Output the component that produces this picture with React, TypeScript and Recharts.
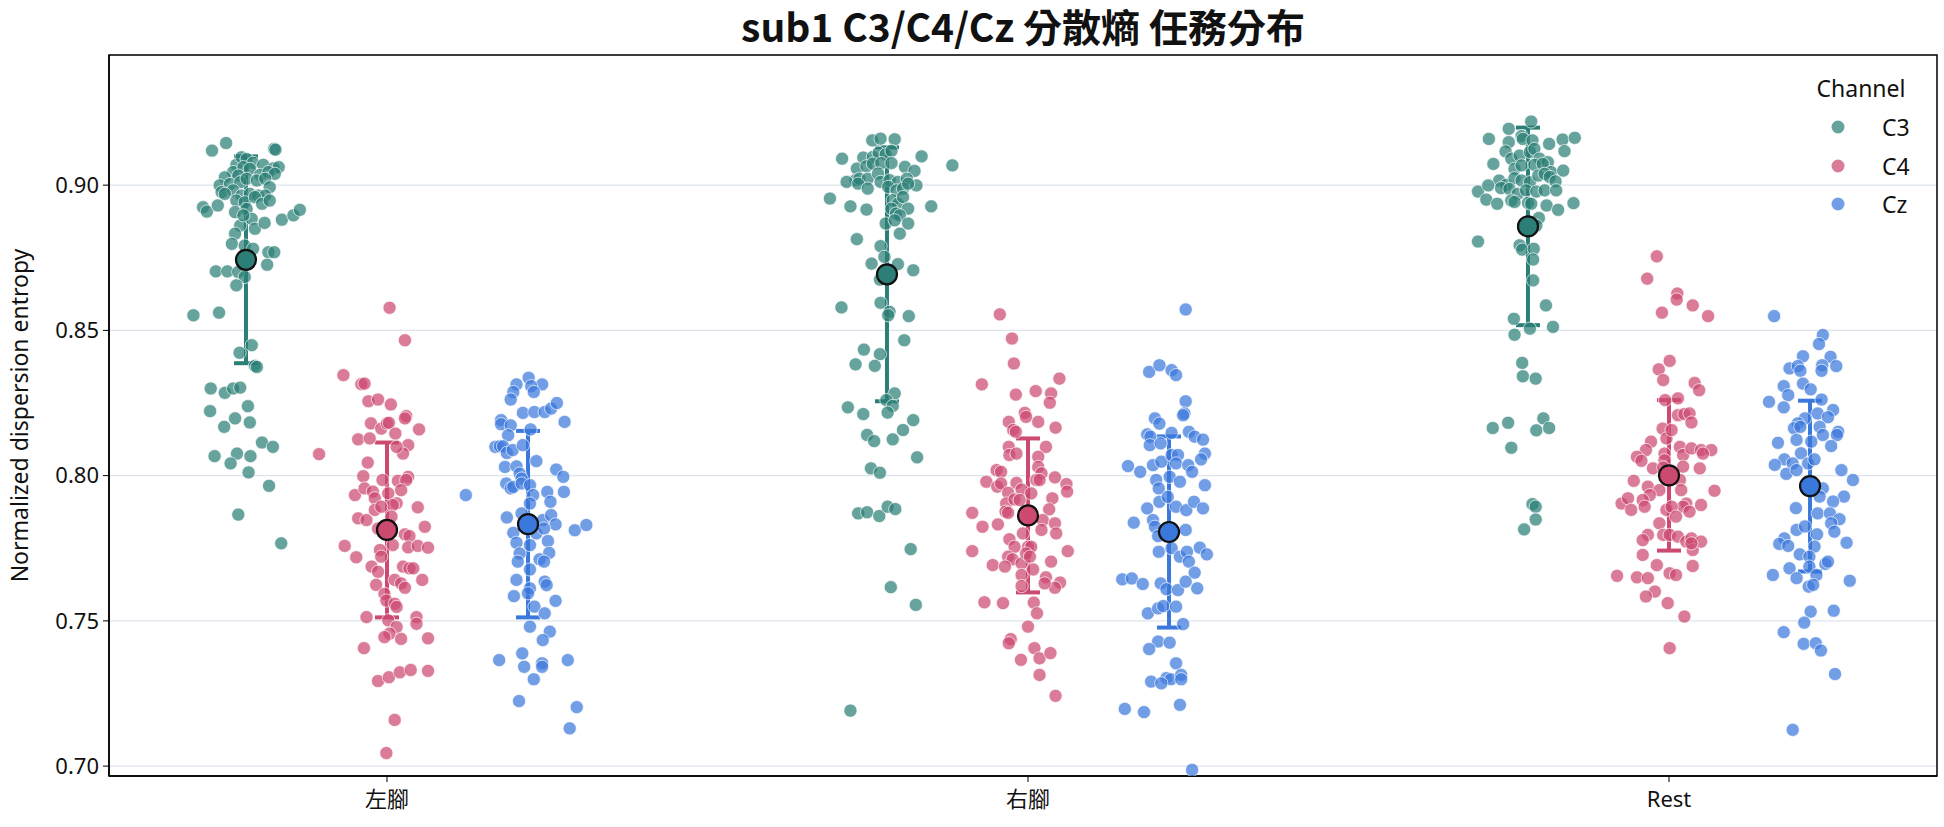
import React from "react";
import {
  ScatterChart,
  Scatter,
  XAxis,
  YAxis,
  CartesianGrid,
  ErrorBar,
  ReferenceArea,
} from "recharts";

const categories = ["左腳", "右腳", "Rest"];
const channels = ["C3", "C4", "Cz"];
const channelColors = ["#2b7f76", "#cc4a70", "#3b78dc"];
const channelOffsets = [-0.22, 0, 0.22];
const yTicks = [0.7, 0.75, 0.8, 0.85, 0.9];
const xDomain = [-0.4337, 2.4181];
const yDomain = [0.6966, 0.9448];

// each trial: [jitter within the strip, normalized dispersion entropy]
const c3Left = [
  [-0.053, 0.9119], [-0.031, 0.9145], [0.044, 0.9125], [0.046, 0.9122], [-0.015, 0.907], [-0.007, 0.9096],
  [0.001, 0.909], [0.011, 0.9077], [0.027, 0.907], [0.043, 0.9058], [0.051, 0.9062], [-0.02, 0.9045],
  [-0.004, 0.9062], [0.006, 0.9056], [-0.033, 0.9027], [-0.012, 0.9033], [0.022, 0.9035], [0.035, 0.9045],
  [0.045, 0.9039], [-0.041, 0.8999], [-0.025, 0.9004], [-0.009, 0.901], [0.001, 0.9022], [0.017, 0.9016],
  [0.03, 0.9022], [0.037, 0.8993], [-0.038, 0.8976], [-0.02, 0.8982], [-0.007, 0.8964], [0.006, 0.897],
  [0.019, 0.8964], [0.03, 0.8964], [-0.033, 0.897], [-0.015, 0.8947], [-0.002, 0.8941], [0.014, 0.8959],
  [0.025, 0.8936], [0.037, 0.8947], [-0.067, 0.8924], [-0.061, 0.8909], [-0.044, 0.893], [-0.017, 0.8907],
  [0.001, 0.8918], [0.009, 0.8884], [-0.009, 0.8861], [0.014, 0.885], [-0.004, 0.8896], [0.029, 0.887],
  [0.056, 0.8881], [0.074, 0.8896], [0.084, 0.8915], [-0.017, 0.8833], [-0.022, 0.8798], [-0.002, 0.8792],
  [0.011, 0.8781], [0.035, 0.8769], [0.044, 0.8769], [0.033, 0.8726], [-0.047, 0.8703], [-0.029, 0.8703],
  [-0.012, 0.8701], [-0.002, 0.8684], [-0.015, 0.8655], [-0.082, 0.8552], [-0.042, 0.8561], [0.009, 0.8449],
  [-0.01, 0.8423], [0.014, 0.8378], [0.017, 0.8374], [-0.055, 0.83], [-0.033, 0.8285], [-0.02, 0.83],
  [-0.009, 0.8303], [-0.056, 0.8222], [0.003, 0.8239], [-0.017, 0.8197], [-0.034, 0.8168], [0.006, 0.8183],
  [0.025, 0.8114], [0.042, 0.8099], [-0.049, 0.8067], [-0.014, 0.8076], [0.007, 0.8067], [-0.024, 0.8042],
  [0.004, 0.8011], [0.036, 0.7965], [-0.012, 0.7866], [0.055, 0.7767],
];

const c4Left = [
  [0.004, 0.8578], [0.028, 0.8466], [-0.068, 0.8346], [-0.04, 0.8315], [-0.035, 0.8317], [-0.029, 0.8256],
  [-0.014, 0.8262], [0.006, 0.8245], [-0.025, 0.818], [-0.009, 0.8162], [0.0, 0.818], [0.003, 0.8182],
  [0.03, 0.8205], [0.028, 0.8197], [0.05, 0.8159], [-0.045, 0.8125], [-0.027, 0.8128], [0.013, 0.8145],
  [0.033, 0.8105], [0.025, 0.8076], [0.015, 0.8099], [-0.106, 0.8074], [-0.03, 0.8045], [-0.037, 0.7998],
  [-0.007, 0.7985], [0.017, 0.7982], [0.033, 0.7996], [0.03, 0.7985], [-0.05, 0.7933], [-0.035, 0.7956],
  [-0.022, 0.7945], [-0.019, 0.7922], [0.002, 0.7939], [0.022, 0.795], [0.015, 0.7905], [0.009, 0.7899],
  [0.048, 0.7891], [-0.045, 0.7853], [-0.032, 0.7847], [-0.019, 0.7882], [-0.009, 0.7893], [0.007, 0.7859],
  [-0.014, 0.7818], [0.028, 0.7798], [0.035, 0.7792], [0.059, 0.7824], [-0.066, 0.7758], [-0.048, 0.7719],
  [-0.011, 0.7744], [-0.009, 0.7721], [0.009, 0.7761], [0.033, 0.7753], [0.048, 0.7758], [0.064, 0.7752],
  [-0.024, 0.7687], [-0.014, 0.7669], [0.025, 0.7687], [0.035, 0.7681], [0.041, 0.7681], [-0.017, 0.7624],
  [0.012, 0.7641], [0.022, 0.7629], [0.028, 0.7614], [0.055, 0.7641], [-0.004, 0.7593], [-0.001, 0.757],
  [0.012, 0.7559], [0.015, 0.7548], [-0.032, 0.7513], [0.002, 0.7502], [0.046, 0.7513], [0.046, 0.749],
  [0.015, 0.7479], [0.004, 0.7456], [-0.004, 0.7444], [0.022, 0.7438], [0.064, 0.744], [-0.036, 0.7406],
  [-0.014, 0.7293], [0.003, 0.7306], [0.02, 0.7323], [0.037, 0.7331], [0.064, 0.7328], [0.012, 0.7159],
  [-0.001, 0.7045],
];

const czLeft = [
  [0.001, 0.8337], [-0.018, 0.8314], [0.022, 0.8314], [0.005, 0.8308], [-0.023, 0.8288], [0.009, 0.8288],
  [-0.027, 0.8262], [-0.008, 0.8216], [0.01, 0.8219], [0.026, 0.8219], [0.036, 0.8231], [0.045, 0.825],
  [0.057, 0.8185], [-0.042, 0.8191], [-0.042, 0.8177], [-0.027, 0.8173], [0.004, 0.8159], [-0.031, 0.8139],
  [-0.051, 0.8099], [-0.044, 0.8101], [-0.039, 0.8101], [-0.033, 0.8078], [-0.024, 0.8088], [-0.008, 0.8105],
  [0.013, 0.805], [-0.036, 0.803], [-0.018, 0.8032], [-0.013, 0.8007], [-0.01, 0.799], [0.044, 0.8021],
  [0.055, 0.7996], [-0.034, 0.7973], [-0.027, 0.7956], [-0.023, 0.7961], [-0.01, 0.7973], [0.003, 0.7967],
  [0.008, 0.7933], [0.03, 0.7944], [0.035, 0.791], [0.056, 0.7944], [-0.097, 0.7933], [0.003, 0.7904],
  [-0.033, 0.7856], [-0.01, 0.787], [0.023, 0.7847], [0.036, 0.7864], [0.043, 0.7832], [0.073, 0.7812],
  [0.091, 0.783], [-0.023, 0.7803], [0.013, 0.7801], [0.025, 0.7818], [-0.018, 0.7769], [0.003, 0.7761],
  [0.031, 0.7775], [-0.013, 0.7732], [0.033, 0.7734], [-0.016, 0.7704], [0.018, 0.7712], [0.025, 0.7704],
  [0.003, 0.7677], [-0.018, 0.7641], [0.026, 0.7635], [0.029, 0.7623], [0.003, 0.7612], [0.0, 0.7595],
  [-0.022, 0.7585], [0.043, 0.7569], [0.01, 0.7549], [0.026, 0.7526], [0.003, 0.748], [0.034, 0.7463],
  [0.023, 0.7434], [-0.009, 0.7388], [-0.045, 0.7365], [0.062, 0.7365], [-0.006, 0.7342], [0.022, 0.7354],
  [0.022, 0.7342], [0.009, 0.7299], [-0.014, 0.7224], [0.076, 0.7203], [0.065, 0.713],
];

const c3Right = [
  [-0.023, 0.9154], [-0.01, 0.916], [0.012, 0.9158], [-0.07, 0.9091], [-0.037, 0.9095], [-0.022, 0.9097],
  [-0.013, 0.9111], [-0.002, 0.9106], [0.007, 0.9118], [0.054, 0.9099], [0.102, 0.9068], [-0.047, 0.9057],
  [-0.032, 0.9065], [-0.022, 0.9074], [-0.009, 0.9076], [0.007, 0.9076], [0.028, 0.9063], [0.043, 0.9049],
  [-0.049, 0.9017], [-0.043, 0.9022], [-0.03, 0.9022], [-0.014, 0.904], [-0.01, 0.9011], [0.004, 0.9017],
  [0.017, 0.9011], [0.031, 0.9022], [0.046, 0.8999], [-0.063, 0.9011], [-0.045, 0.9005], [-0.03, 0.8988],
  [0.002, 0.8994], [0.015, 0.8982], [0.025, 0.8988], [0.033, 0.9005], [-0.089, 0.8954], [-0.057, 0.8927],
  [-0.032, 0.8916], [0.009, 0.8948], [0.017, 0.8936], [0.025, 0.8959], [0.033, 0.8919], [0.069, 0.8927],
  [0.007, 0.8919], [0.014, 0.8902], [0.02, 0.8896], [-0.002, 0.8868], [0.012, 0.8879], [0.033, 0.8868],
  [0.02, 0.8833], [-0.047, 0.8814], [-0.01, 0.879], [-0.004, 0.8753], [-0.024, 0.873], [0.017, 0.8728],
  [0.041, 0.8707], [-0.011, 0.8675], [-0.071, 0.8579], [-0.01, 0.8595], [0.004, 0.8564], [0.002, 0.8552],
  [0.034, 0.8549], [0.027, 0.8466], [-0.036, 0.8434], [-0.011, 0.8418], [-0.049, 0.8383], [-0.019, 0.8378],
  [0.012, 0.8283], [-0.001, 0.826], [0.009, 0.824], [-0.061, 0.8235], [-0.037, 0.8212], [0.001, 0.8217],
  [0.041, 0.8191], [0.025, 0.8157], [-0.031, 0.814], [-0.02, 0.8119], [0.009, 0.8125], [0.047, 0.8063],
  [-0.025, 0.8025], [-0.011, 0.801], [-0.045, 0.787], [-0.031, 0.7874], [-0.012, 0.7861], [0.001, 0.7893],
  [0.013, 0.7885], [0.037, 0.7747], [0.006, 0.7616], [0.045, 0.7555], [-0.057, 0.7191],
];

const c4Right = [
  [-0.044, 0.8555], [-0.025, 0.8472], [-0.022, 0.8386], [-0.072, 0.8314], [0.049, 0.8334], [-0.019, 0.8279],
  [0.012, 0.8291], [0.036, 0.8283], [0.034, 0.8251], [-0.005, 0.8216], [-0.003, 0.8202], [0.016, 0.8185],
  [-0.03, 0.8185], [-0.023, 0.8157], [-0.019, 0.8151], [0.043, 0.8165], [-0.03, 0.8099], [0.028, 0.8099],
  [-0.029, 0.8071], [-0.018, 0.8076], [0.016, 0.8065], [-0.049, 0.8019], [-0.042, 0.8013], [0.016, 0.803],
  [0.021, 0.8008], [-0.065, 0.7979], [-0.048, 0.7962], [-0.042, 0.7973], [-0.018, 0.7975], [-0.01, 0.7952],
  [0.005, 0.7939], [0.013, 0.7985], [0.018, 0.7985], [0.042, 0.7994], [0.06, 0.7971], [0.061, 0.7945],
  [-0.031, 0.7941], [-0.034, 0.7904], [-0.021, 0.7918], [-0.013, 0.7916], [0.038, 0.7922], [-0.087, 0.7872],
  [-0.035, 0.7876], [-0.031, 0.7872], [0.033, 0.7884], [-0.071, 0.7824], [-0.047, 0.7832], [0.023, 0.7847],
  [0.021, 0.7813], [0.042, 0.7836], [0.044, 0.7801], [-0.008, 0.7801], [-0.029, 0.7781], [-0.021, 0.7755],
  [0.0, 0.7755], [0.005, 0.7755], [-0.087, 0.774], [0.062, 0.774], [-0.031, 0.7721], [-0.024, 0.7712],
  [-0.01, 0.7698], [-0.003, 0.7732], [0.003, 0.7721], [0.036, 0.7704], [-0.055, 0.7692], [-0.036, 0.7687],
  [-0.01, 0.7658], [0.008, 0.7677], [0.028, 0.765], [0.05, 0.7632], [0.042, 0.7614], [0.026, 0.7629],
  [-0.01, 0.762], [-0.068, 0.7564], [-0.039, 0.7561], [0.009, 0.7563], [0.014, 0.7526], [0.0, 0.748],
  [-0.027, 0.7437], [-0.03, 0.7423], [0.01, 0.7406], [0.018, 0.7371], [0.035, 0.7389], [-0.011, 0.7366],
  [0.018, 0.7314], [0.043, 0.7242],
];

const czRight = [
  [0.026, 0.8572], [-0.031, 0.8357], [-0.015, 0.838], [0.004, 0.8363], [0.011, 0.8346], [0.026, 0.8256],
  [0.024, 0.8214], [0.022, 0.8208], [-0.022, 0.8197], [-0.015, 0.8179], [-0.034, 0.8142], [-0.029, 0.8134],
  [-0.03, 0.8105], [-0.013, 0.8111], [0.004, 0.8147], [0.031, 0.8151], [0.04, 0.8134], [0.053, 0.8124],
  [0.056, 0.8076], [0.05, 0.8056], [-0.064, 0.8033], [-0.045, 0.8013], [-0.025, 0.8036], [-0.012, 0.8048],
  [0.004, 0.8071], [0.014, 0.8071], [0.011, 0.8042], [0.03, 0.8036], [0.036, 0.8013], [-0.02, 0.7985],
  [-0.016, 0.7956], [0.001, 0.7996], [0.017, 0.7979], [0.056, 0.7967], [-0.015, 0.791], [-0.002, 0.7927],
  [0.011, 0.7893], [0.027, 0.7881], [0.039, 0.791], [0.053, 0.7887], [-0.034, 0.7887], [-0.055, 0.7838],
  [-0.025, 0.7847], [-0.022, 0.7824], [-0.017, 0.7792], [0.026, 0.7813], [-0.016, 0.7738], [0.004, 0.775],
  [0.017, 0.7721], [0.028, 0.7738], [0.031, 0.7704], [0.048, 0.7752], [0.059, 0.7729], [0.04, 0.7666],
  [-0.073, 0.7643], [-0.058, 0.7646], [-0.041, 0.7627], [-0.013, 0.7629], [-0.004, 0.7609], [0.014, 0.7606],
  [0.026, 0.7635], [0.044, 0.7612], [-0.033, 0.7526], [-0.017, 0.7543], [-0.009, 0.7551], [0.011, 0.7549],
  [0.022, 0.7489], [-0.017, 0.7429], [-0.031, 0.7403], [0.001, 0.7425], [0.011, 0.7354], [-0.004, 0.7303],
  [0.003, 0.7299], [0.019, 0.7314], [0.019, 0.7299], [-0.028, 0.7291], [-0.012, 0.7285], [-0.069, 0.7197],
  [-0.039, 0.7186], [0.017, 0.7211], [0.036, 0.6987],
];

const c3Rest = [
  [0.005, 0.9219], [-0.03, 0.9194], [-0.061, 0.9159], [-0.01, 0.9169], [-0.008, 0.9159], [0.007, 0.9154],
  [0.033, 0.9142], [0.054, 0.9157], [0.073, 0.9163], [-0.03, 0.9148], [-0.035, 0.9116], [-0.026, 0.9091],
  [-0.013, 0.9102], [0.003, 0.9114], [0.01, 0.9125], [0.018, 0.9091], [0.031, 0.9079], [0.057, 0.9117],
  [-0.054, 0.9073], [-0.021, 0.9056], [-0.01, 0.9068], [0.01, 0.907], [0.023, 0.9073], [0.036, 0.9045],
  [0.055, 0.905], [-0.045, 0.9016], [-0.034, 0.9001], [-0.021, 0.9024], [-0.01, 0.9016], [0.003, 0.901],
  [0.016, 0.9033], [0.026, 0.9039], [0.034, 0.9028], [0.043, 0.9013], [-0.078, 0.8978], [-0.062, 0.8999],
  [-0.042, 0.899], [-0.029, 0.8987], [-0.016, 0.897], [-0.003, 0.8982], [0.013, 0.8978], [0.026, 0.8982],
  [0.044, 0.8982], [-0.065, 0.895], [-0.048, 0.8936], [-0.026, 0.8947], [-0.021, 0.8942], [0.0, 0.8939],
  [0.005, 0.8936], [0.029, 0.893], [0.047, 0.8915], [0.071, 0.8938], [0.017, 0.8887], [0.013, 0.8861],
  [-0.078, 0.8806], [-0.013, 0.8793], [-0.009, 0.8778], [0.009, 0.8781], [0.008, 0.8744], [0.008, 0.8672],
  [0.028, 0.8586], [-0.022, 0.854], [0.003, 0.8506], [-0.021, 0.8485], [0.039, 0.8512], [-0.009, 0.8388],
  [-0.008, 0.8342], [0.012, 0.8334], [-0.055, 0.8164], [-0.031, 0.8182], [-0.026, 0.8096], [0.013, 0.8156],
  [0.024, 0.8197], [0.033, 0.8164], [0.007, 0.7902], [0.012, 0.7893], [0.012, 0.7849], [-0.006, 0.7815],
];

const c4Rest = [
  [-0.019, 0.8755], [-0.034, 0.8678], [0.013, 0.8627], [0.012, 0.8606], [0.037, 0.8586], [0.061, 0.8549],
  [-0.011, 0.8561], [0.001, 0.8395], [-0.016, 0.8366], [-0.009, 0.8329], [0.04, 0.8319], [0.047, 0.8294],
  [-0.006, 0.826], [0.014, 0.8266], [0.014, 0.8208], [0.024, 0.8212], [0.032, 0.8214], [0.035, 0.8183],
  [-0.01, 0.8162], [-0.004, 0.8128], [0.004, 0.8157], [-0.028, 0.8117], [-0.036, 0.8088], [-0.05, 0.8065],
  [-0.043, 0.8051], [-0.007, 0.8076], [-0.007, 0.8053], [0.017, 0.8099], [0.022, 0.8071], [0.035, 0.8094],
  [0.05, 0.8088], [0.066, 0.8088], [0.053, 0.8076], [-0.025, 0.8025], [-0.009, 0.8028], [0.022, 0.8031],
  [0.048, 0.8025], [-0.055, 0.7982], [-0.033, 0.7962], [-0.015, 0.795], [0.017, 0.7985], [0.019, 0.795],
  [-0.03, 0.7933], [-0.074, 0.7904], [-0.064, 0.7922], [-0.059, 0.7882], [-0.041, 0.7916], [-0.038, 0.7893],
  [0.027, 0.7904], [0.022, 0.7893], [0.05, 0.7899], [0.071, 0.7948], [-0.004, 0.7882], [0.004, 0.7893],
  [0.011, 0.7859], [0.032, 0.7876], [-0.015, 0.7836], [-0.033, 0.7796], [-0.041, 0.7778], [-0.041, 0.7727],
  [-0.009, 0.7796], [0.001, 0.7796], [0.014, 0.779], [0.027, 0.7773], [0.035, 0.7784], [0.037, 0.7744],
  [0.05, 0.7773], [0.035, 0.7767], [-0.019, 0.7692], [0.037, 0.7689], [-0.081, 0.7655], [-0.05, 0.765],
  [-0.033, 0.7647], [0.001, 0.7664], [0.011, 0.7658], [-0.022, 0.7601], [-0.036, 0.7584], [-0.002, 0.7561],
  [0.024, 0.7515], [0.001, 0.7406],
];

const czRest = [
  [-0.056, 0.8549], [0.02, 0.8484], [0.014, 0.8453], [-0.011, 0.8411], [0.032, 0.8409], [-0.032, 0.8369],
  [-0.019, 0.8377], [-0.015, 0.8361], [0.019, 0.838], [0.018, 0.8361], [0.041, 0.8377], [-0.041, 0.8308],
  [-0.034, 0.8277], [-0.011, 0.8317], [0.001, 0.8297], [-0.064, 0.8254], [-0.041, 0.8235], [0.018, 0.8262],
  [0.036, 0.8226], [0.012, 0.8214], [0.028, 0.8201], [-0.008, 0.8197], [-0.019, 0.818], [-0.025, 0.8163],
  [-0.015, 0.8168], [0.015, 0.8168], [0.02, 0.814], [0.044, 0.8151], [0.042, 0.814], [-0.05, 0.8113],
  [-0.021, 0.8123], [0.002, 0.8117], [0.033, 0.8102], [-0.014, 0.8077], [-0.04, 0.8056], [-0.055, 0.8037],
  [-0.027, 0.8042], [-0.003, 0.8042], [0.007, 0.8056], [-0.037, 0.8006], [-0.021, 0.8019], [0.049, 0.8019],
  [0.067, 0.7985], [0.02, 0.7956], [0.015, 0.7928], [0.053, 0.7928], [0.036, 0.7911], [-0.022, 0.7888],
  [0.012, 0.787], [0.031, 0.787], [0.046, 0.785], [0.033, 0.7836], [0.038, 0.7807], [-0.021, 0.7813],
  [-0.008, 0.7825], [0.011, 0.7798], [-0.04, 0.7784], [-0.048, 0.7765], [-0.034, 0.7758], [0.057, 0.7769],
  [-0.016, 0.7729], [0.007, 0.7756], [-0.001, 0.7721], [0.024, 0.7696], [0.028, 0.7704], [-0.032, 0.7681],
  [-0.021, 0.7647], [-0.001, 0.7687], [0.01, 0.7658], [-0.058, 0.7658], [-0.002, 0.7618], [0.005, 0.7624],
  [0.062, 0.7638], [0.001, 0.7532], [0.037, 0.7535], [-0.009, 0.7494], [-0.041, 0.7461], [-0.01, 0.7421],
  [0.009, 0.7423], [0.017, 0.7398], [0.039, 0.7317], [-0.027, 0.7125],
];

// mean and standard deviation per channel, in category order
const meansC3 = [0.8743, 0.8693, 0.8858];
const sdsC3 = [0.0356, 0.0437, 0.034];
const meansC4 = [0.7813, 0.7863, 0.8001];
const sdsC4 = [0.0301, 0.0265, 0.0259];
const meansCz = [0.7833, 0.7806, 0.7964];
const sdsCz = [0.0321, 0.0329, 0.0294];

const trials = [
  [c3Left, c3Right, c3Rest],
  [c4Left, c4Right, c4Rest],
  [czLeft, czRight, czRest],
];
const means = [meansC3, meansC4, meansCz];
const sds = [sdsC3, sdsC4, sdsCz];

const FONT = '"Noto Sans", "Noto Sans CJK TC", sans-serif';

const stripPoints = (ch: number) =>
  trials[ch].flatMap((group, cat) =>
    group.map(([dx, v]) => ({ x: cat + channelOffsets[ch] + dx, y: v }))
  );

const meanPoints = (ch: number) =>
  categories.map((_, cat) => ({
    x: cat + channelOffsets[ch],
    y: means[ch][cat],
    err: sds[ch][cat],
  }));

const dot = (color: string) => (props: any) => (
  <circle
    cx={props.cx}
    cy={props.cy}
    r={6.6}
    fill={color}
    fillOpacity={0.72}
    stroke="#ffffff"
    strokeOpacity={0.85}
    strokeWidth={0.8}
  />
);

const meanDot = (color: string) => (props: any) => (
  <circle cx={props.cx} cy={props.cy} r={10} fill={color} stroke="#111111" strokeWidth={2.2} />
);

const YLabel = (props: any) => {
  const vb = props.viewBox;
  const cy = vb.y + vb.height / 2;
  return (
    <text
      x={19}
      y={cy}
      transform={`rotate(-90 19 ${cy})`}
      textAnchor="middle"
      dominantBaseline="central"
      fontFamily={FONT}
      fontSize={23}
      fill="#111"
    >
      Normalized dispersion entropy
    </text>
  );
};

function ChannelLegend() {
  return (
    <div style={{ position: "absolute", left: 1796, top: 71, fontFamily: FONT, fontSize: 23, color: "#111" }}>
      <div style={{ width: 130, textAlign: "center", lineHeight: "34px" }}>Channel</div>
      {channels.map((c, i) => (
        <div key={c} style={{ display: "flex", alignItems: "center", height: 38.5, marginTop: i === 0 ? 3 : 0 }}>
          <svg width={86} height={20}>
            <circle cx={42} cy={10} r={6.5} fill={channelColors[i]} fillOpacity={0.72} />
          </svg>
          <span>{c}</span>
        </div>
      ))}
    </div>
  );
}

export default function App() {
  return (
    <div style={{ position: "absolute", left: 0, top: 0, width: 1944, height: 827, background: "#fff" }}>
      <div
        style={{
          position: "absolute",
          left: 109,
          top: 1,
          width: 1828,
          textAlign: "center",
          fontFamily: '"Noto Sans CJK TC", sans-serif',
          fontWeight: 700,
          fontSize: 39,
          lineHeight: "48px",
          color: "#111",
        }}
      >
        sub1 C3/C4/Cz 分散熵 任務分布
      </div>
      <ScatterChart width={1944} height={827} margin={{ top: 55, right: 7, bottom: 0, left: 0 }}>
        <CartesianGrid vertical={false} stroke="#dde4ec" strokeWidth={1.3} />
        <XAxis
          type="number"
          dataKey="x"
          domain={xDomain}
          allowDataOverflow
          ticks={[0, 1, 2]}
          tickFormatter={(i: number) => categories[i]}
          height={51}
          tickSize={6}
          tickMargin={9}
          axisLine={{ stroke: "#000", strokeWidth: 1.5 }}
          tickLine={{ stroke: "#000" }}
          tick={{ fontFamily: FONT, fontSize: 22, fill: "#111" }}
        />
        <YAxis
          type="number"
          dataKey="y"
          domain={yDomain}
          allowDataOverflow
          ticks={yTicks}
          tickFormatter={(v: number) => v.toFixed(2)}
          width={109}
          tickSize={6}
          tickMargin={4}
          axisLine={{ stroke: "#000", strokeWidth: 1.5 }}
          tickLine={{ stroke: "#000" }}
          tick={{ fontFamily: FONT, fontSize: 22, fill: "#111" }}
          label={<YLabel />}
        />
        {channels.map((c, i) => (
          <Scatter
            key={c}
            name={c}
            data={stripPoints(i)}
            shape={dot(channelColors[i])}
            isAnimationActive={false}
          />
        ))}
        {channels.map((c, i) => (
          <Scatter
            key={`${c}-mean`}
            data={meanPoints(i)}
            shape={meanDot(channelColors[i])}
            isAnimationActive={false}
          >
            <ErrorBar dataKey="err" direction="y" width={12} stroke={channelColors[i]} strokeWidth={4} />
          </Scatter>
        ))}
        <ReferenceArea
          x1={xDomain[0]}
          x2={xDomain[1]}
          y1={yDomain[0]}
          y2={yDomain[1]}
          fill="none"
          stroke="#000"
          strokeWidth={1.5}
        />
      </ScatterChart>
      <ChannelLegend />
    </div>
  );
}
